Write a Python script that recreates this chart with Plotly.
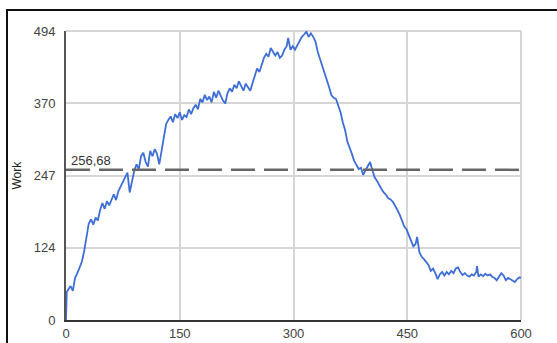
import plotly.graph_objects as go

x_vals = [0, 1, 3, 6, 9, 12, 15, 18, 21, 24, 27, 30, 33, 36, 39, 42, 45, 48, 51, 54, 57, 60,
          63, 66, 69, 72, 75, 78, 81, 84, 87, 90, 93, 96, 99, 102, 105, 108, 111, 114, 117, 120,
          123, 126, 129, 132, 135, 138, 141, 144, 147, 150, 153, 156, 159, 162, 165, 168, 171, 174,
          177, 180, 183, 186, 189, 192, 195, 198, 201, 204, 207, 210, 213, 216, 219, 222, 225, 228,
          231, 234, 237, 240, 243, 246, 249, 252, 255, 258, 261, 264, 267, 270, 273, 276, 279, 282,
          285, 288, 291, 293, 296, 299, 302, 305, 308, 311, 314, 317, 320, 323, 326, 329, 332, 335,
          338, 341, 344, 347, 350, 353, 356, 359, 362, 365, 368, 371, 374, 377, 380, 383, 386, 389,
          392, 395, 398, 401, 404, 407, 410, 413, 416, 419, 422, 425, 428, 431, 434, 437, 440, 443,
          446, 449, 452, 455, 458, 461, 463, 466, 469, 472, 475, 478, 481, 484, 487, 490, 493, 496,
          499, 502, 505, 508, 511, 514, 517, 520, 523, 526, 529, 532, 535, 538, 541, 542, 544, 547,
          550, 553, 556, 559, 562, 565, 568, 571, 574, 577, 580, 583, 586, 589, 592, 595, 598, 600]
work = [0, 48, 52, 58, 50, 72, 80, 92, 100, 118, 140, 165, 172, 163, 175, 170, 188, 200, 190, 203, 196, 206,
        215, 205, 220, 228, 236, 244, 252, 218, 240, 255, 266, 258, 280, 286, 270, 262, 289, 280, 292, 284,
        266, 290, 310, 335, 342, 348, 338, 352, 345, 355, 342, 350, 347, 360, 352, 362, 368, 360,
        378, 372, 385, 376, 382, 372, 390, 380, 392, 383, 375, 370, 388, 396, 390, 402, 396, 408,
        400, 392, 404, 398, 392, 405, 420, 430, 424, 436, 448, 455, 450, 465, 458, 452, 458, 448,
        452, 462, 468, 482, 462, 468, 462, 470, 478, 484, 488, 493, 484, 490, 484, 476, 458, 446,
        436, 426, 410, 398, 384, 380, 378, 368, 355, 338, 325, 305, 296, 284, 272, 265, 258, 260,
        248, 256, 262, 270, 256, 244, 238, 230, 224, 218, 214, 208, 206, 202, 196, 188, 180, 170,
        160, 155, 145, 133, 126, 130, 142, 116, 108, 104, 98, 94, 84, 88, 80, 70, 78, 82,
        76, 82, 78, 84, 80, 88, 90, 82, 77, 80, 76, 74, 78, 76, 82, 92, 74, 78,
        75, 79, 76, 78, 74, 72, 68, 74, 80, 76, 68, 72, 70, 67, 65, 70, 73, 72]
assert len(x_vals) == len(work)

mean_value = 256.68
mean_label = "256,68"
y_tickvals = [0, 123.5, 247, 370.5, 494]
y_ticktext = ["0", "124", "247", "370", "494"]
x_tickvals = [0, 150, 300, 450, 600]
y_title = "Work"

font = "Liberation Sans, Arial, sans-serif"

fig = go.Figure()
fig.add_trace(go.Scatter(x=x_vals, y=work, mode="lines",
                         line=dict(color="#3f6fd6", width=1.8),
                         showlegend=False, hoverinfo="skip"))

# mean dashed line
fig.add_shape(type="line", xref="x", yref="y", x0=0, x1=600, y0=mean_value, y1=mean_value,
              line=dict(color="#666666", width=2.5, dash="24px,9px"), layer="above")
fig.add_annotation(x=0, y=mean_value, xref="x", yref="y", text=mean_label, showarrow=False,
                   xanchor="left", yanchor="bottom", xshift=3, yshift=0,
                   font=dict(family=font, size=13, color="#333333"))

# y-axis title
fig.add_annotation(x=(16 - 66) / 455, y=0.5, xref="paper", yref="paper", text=y_title,
                   showarrow=False, textangle=-90, xanchor="center", yanchor="middle",
                   font=dict(family=font, size=12, color="#222222"))

# top and right grid borders
fig.add_shape(type="line", xref="paper", yref="paper", x0=0, x1=1, y0=1, y1=1,
              line=dict(color="#d6d6d6", width=2), layer="below")
fig.add_shape(type="line", xref="paper", yref="paper", x0=1, x1=1, y0=0, y1=1,
              line=dict(color="#d6d6d6", width=2), layer="below")

# outer frame (left and top)
fx = (7 - 66) / 455
fy = (320 - 10) / 289
fig.add_shape(type="path", xref="paper", yref="paper",
              path=f"M {fx} -0.2 L {fx} {fy} L 1.2 {fy}",
              line=dict(color="#111111", width=2))

fig.update_layout(
    width=557, height=343,
    margin=dict(l=66, r=36, t=31, b=23, autoexpand=False),
    paper_bgcolor="white", plot_bgcolor="white",
    font=dict(family=font, size=13, color="#444444"),
    xaxis=dict(range=[0, 600], tickvals=x_tickvals, showgrid=True, gridcolor="#d6d6d6",
               gridwidth=2, showline=True, linecolor="#333333", linewidth=2,
               zeroline=False, ticks="", automargin=False,
               tickfont=dict(size=13, color="#444444")),
    yaxis=dict(range=[0, 494], tickvals=y_tickvals, ticktext=y_ticktext, showgrid=True,
               gridcolor="#d6d6d6", gridwidth=2, showline=True, linecolor="#555555",
               linewidth=2, zeroline=False, ticks="", ticklabelstandoff=6, automargin=False,
               tickfont=dict(size=13, color="#444444")),
)

fig.write_html("out.html", config={"displayModeBar": False},
               post_script="document.body.style.margin='0';")
